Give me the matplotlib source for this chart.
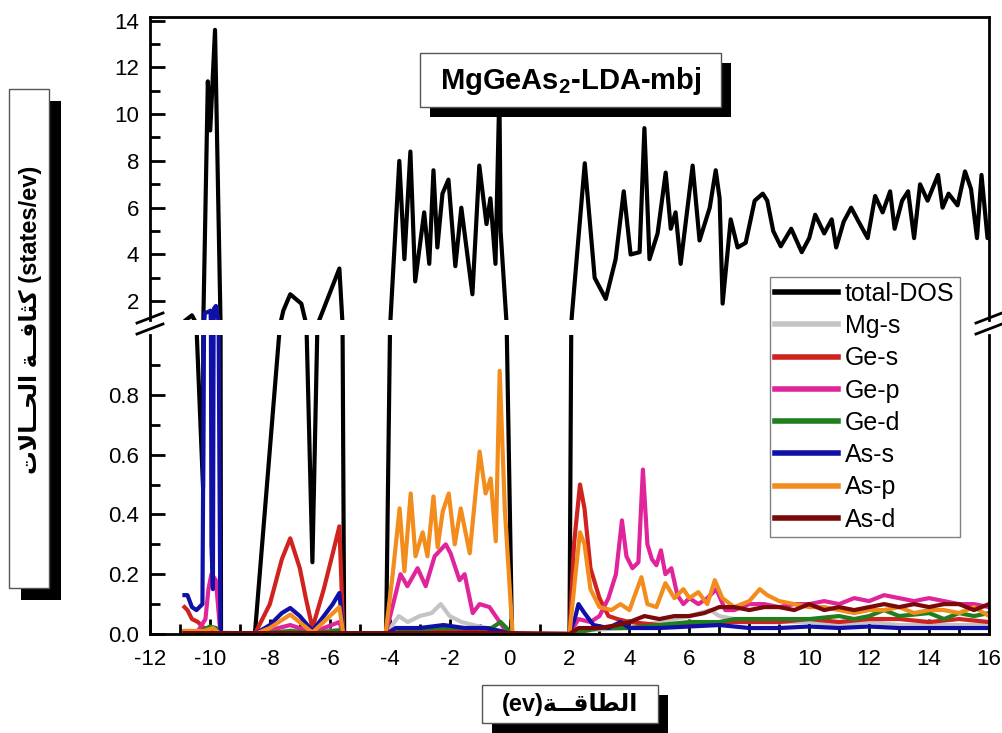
# -*- coding: utf-8 -*-
"""MgGeAs2 LDA-mbj density of states with a broken y axis."""
import matplotlib
matplotlib.use('Agg')
# pylint: disable=wrong-import-position
import matplotlib.pyplot as plt
from matplotlib.lines import Line2D
from matplotlib.patches import Rectangle

W, H = 1003, 733

# ---- data ----
tot_e = [-10.8, -10.6, -10.23, -10.07, -9.99, -9.83, -9.63,
         -8.5, -7.65, -7.55, -7.32, -6.95, -6.82, -6.58, -6.42, -6.35,
         -5.68, -5.58, -5.52,
         -4.12, -3.98, -3.68, -3.51, -3.31, -3.15, -2.85, -2.68, -2.54,
         -2.41, -2.24, -2.04, -1.81, -1.61, -1.24, -1.01, -0.77, -0.64,
         -0.47, -0.34, -0.3, -0.1, 0.08,
         2.0, 2.08, 2.51, 2.84, 3.21, 3.54, 3.81, 4.04, 4.34, 4.5, 4.67,
         4.94, 5.21, 5.38, 5.54, 5.71, 6.11, 6.34, 6.68, 6.88, 7.01, 7.11,
         7.38, 7.61, 7.88, 8.18, 8.45, 8.6, 8.8, 9.05, 9.4, 9.75, 10.0,
         10.2, 10.5, 10.75, 10.9, 11.15, 11.4, 11.65, 11.95, 12.2, 12.45,
         12.7, 12.85, 13.1, 13.3, 13.5, 13.7, 13.95, 14.3, 14.45, 14.65,
         14.95, 15.2, 15.4, 15.6, 15.75, 15.95, 16.1]
tot_v = [1.2, 1.4, 0.49, 11.4, 9.3, 13.6, 0.0,
         0.0, 1.05, 1.6, 2.3, 1.9, 1.2, 0.24, 1.0, 1.2,
         3.4, 1.15, 0.0,
         0.0, 1.1, 8.0, 3.8, 8.4, 2.85, 5.8, 3.6, 7.6,
         4.3, 6.6, 7.2, 3.5, 6.0, 2.3, 7.8, 5.3, 6.4,
         3.6, 11.0, 5.0, 1.05, 0.0,
         0.0, 1.4, 7.9, 3.0, 2.1, 3.8, 6.7, 4.0, 4.1, 9.4, 3.8,
         4.9, 7.5, 5.1, 5.8, 3.6, 7.8, 4.6, 6.0, 7.6, 6.4, 1.9,
         5.5, 4.3, 4.5, 6.3, 6.6, 6.3, 5.0, 4.35, 5.1, 4.1, 4.7,
         5.7, 4.9, 5.5, 4.3, 5.4, 6.0, 5.4, 4.7, 6.5, 5.8,
         6.7, 5.1, 6.3, 6.7, 4.7, 7.0, 6.3, 7.4, 6.0, 6.6,
         6.1, 7.55, 6.8, 4.7, 7.4, 4.7, 5.5]

mg_s_e = [-10.85, -9.6, -8.5, -7.3, -6.6, -5.7, -5.5,
          -4.12, -3.7, -3.4, -3.0, -2.6, -2.3, -2.0, -1.6, -1.2, -0.8, -0.3,
          0.08, 2.0, 2.5, 3.0, 4.0, 5.0, 5.5, 6.0, 6.7, 7.0, 7.5, 8.0, 8.5,
          9.0, 10.0, 11.0, 12.0, 13.0, 14.0, 15.0, 16.0]
mg_s_v = [0.005, 0.005, 0.0, 0.012, 0.003, 0.015, 0.0,
          0.0, 0.06, 0.04, 0.06, 0.07, 0.1, 0.06, 0.04, 0.03, 0.02, 0.01,
          0.0, 0.0, 0.01, 0.015, 0.02, 0.04, 0.05, 0.06, 0.08, 0.06, 0.05,
          0.05, 0.04, 0.04, 0.04, 0.03, 0.04, 0.03, 0.03, 0.03, 0.03]

ge_s_e = [-10.85, -10.75, -10.6, -10.4, -10.2, -9.9, -9.65,
          -8.5, -8.0, -7.6, -7.32, -7.0, -6.8, -6.58, -6.2, -5.9, -5.68,
          -5.55, -4.12, -3.0, -2.0, -1.0, 0.08,
          2.0, 2.15, 2.35, 2.5, 2.7, 3.0, 3.3, 3.6, 4.0, 5.0, 6.0, 7.0,
          8.0, 9.0, 10.0, 11.0, 12.0, 13.0, 14.0, 15.0, 16.0]
ge_s_v = [0.09, 0.08, 0.05, 0.04, 0.02, 0.01, 0.0,
          0.0, 0.1, 0.25, 0.32, 0.22, 0.12, 0.02, 0.15, 0.27, 0.36,
          0.0, 0.0, 0.01, 0.01, 0.01, 0.0,
          0.0, 0.3, 0.5, 0.42, 0.22, 0.12, 0.06, 0.05, 0.04, 0.03, 0.03,
          0.04, 0.04, 0.04, 0.05, 0.04, 0.05, 0.05, 0.04, 0.05, 0.04]

ge_p_e = [-10.85, -10.4, -10.15, -10.05, -9.95, -9.8, -9.65,
          -8.5, -7.32, -6.58, -5.68, -5.55,
          -4.14, -3.91, -3.64, -3.41, -3.07, -2.80, -2.50, -2.13, -1.97,
          -1.67, -1.50, -1.23, -1.0, -0.67, -0.33, -0.06,
          2.0, 2.3, 2.7, 3.0, 3.3, 3.55, 3.75, 3.9, 4.1, 4.3, 4.45, 4.6,
          4.75, 4.9, 5.05, 5.2, 5.4, 5.6, 5.8, 6.0, 6.3, 6.6, 6.9, 7.2,
          7.5, 8.0, 8.5, 9.0, 9.5, 10.0, 10.5, 11.0, 11.5, 12.0, 12.5,
          13.0, 13.5, 14.0, 14.5, 15.0, 15.5, 16.0]
ge_p_v = [0.01, 0.01, 0.05, 0.15, 0.2, 0.18, 0.0,
          0.0, 0.03, 0.005, 0.04, 0.0,
          0.0, 0.09, 0.2, 0.16, 0.22, 0.16, 0.26, 0.3, 0.27,
          0.18, 0.2, 0.07, 0.1, 0.09, 0.04, 0.0,
          0.0, 0.05, 0.04, 0.06, 0.12, 0.2, 0.38, 0.26, 0.22, 0.24, 0.55,
          0.3, 0.25, 0.23, 0.28, 0.2, 0.22, 0.13, 0.1, 0.12, 0.1, 0.12,
          0.15, 0.08, 0.08, 0.1, 0.1, 0.09, 0.1, 0.1, 0.11, 0.1, 0.12,
          0.11, 0.13, 0.12, 0.11, 0.12, 0.11, 0.1, 0.1, 0.09]

ge_d_e = [-10.85, -10.3, -10.0, -9.8, -9.65, -8.5, -7.3, -6.6, -5.7,
          -5.55, -4.12, -3.5, -2.5, -1.5, -0.6, -0.3, -0.1, 0.05,
          2.0, 2.5, 3.0, 4.0, 5.0, 6.0, 7.0, 7.5, 8.0, 9.0, 10.0, 11.0,
          11.5, 12.0, 12.5, 13.0, 14.0, 14.5, 15.0, 15.5, 16.0]
ge_d_v = [0.005, 0.01, 0.025, 0.02, 0.0, 0.0, 0.01, 0.003, 0.012,
          0.0, 0.0, 0.01, 0.02, 0.02, 0.02, 0.04, 0.02, 0.0,
          0.0, 0.01, 0.02, 0.02, 0.03, 0.04, 0.04, 0.05, 0.05, 0.05, 0.05,
          0.06, 0.05, 0.06, 0.08, 0.06, 0.07, 0.05, 0.07, 0.06, 0.07]

as_s_e = [-10.85, -10.75, -10.6, -10.45, -10.25, -10.17, -10.05, -9.98,
          -9.95, -9.9, -9.86, -9.8, -9.72, -9.65,
          -8.5, -8.0, -7.6, -7.32, -7.0, -6.58, -6.2, -5.9, -5.68, -5.55,
          -4.12, -3.8, -3.0, -2.2, -1.5, -0.8, -0.3, 0.05,
          2.0, 2.2, 2.3, 2.5, 2.8, 3.3, 3.7, 4.0, 5.0, 6.0, 7.0, 8.0, 9.0,
          10.0, 11.0, 12.0, 13.0, 14.0, 15.0, 16.0]
as_s_v = [0.13, 0.13, 0.09, 0.08, 0.1, 1.5, 1.55, 1.6,
          0.3, 0.15, 1.7, 1.8, 1.2, 0.0,
          0.0, 0.03, 0.07, 0.087, 0.06, 0.01, 0.06, 0.1, 0.137, 0.0,
          0.0, 0.02, 0.02, 0.03, 0.02, 0.02, 0.01, 0.0,
          0.0, 0.06, 0.1, 0.07, 0.03, 0.02, 0.04, 0.02, 0.02, 0.025, 0.03,
          0.02, 0.02, 0.025, 0.02, 0.025, 0.02, 0.02, 0.02, 0.02]

as_p_e = [-10.85, -10.2, -9.9, -9.65,
          -8.5, -8.0, -7.32, -6.58, -5.68, -5.55,
          -4.14, -3.9, -3.67, -3.51, -3.30, -3.14, -2.90, -2.74, -2.54,
          -2.40, -2.23, -2.03, -1.83, -1.63, -1.33, -1.0, -0.80, -0.63,
          -0.46, -0.33, -0.16, 0.1,
          2.0, 2.2, 2.35, 2.5, 2.7, 3.0, 3.4, 3.7, 4.0, 4.4, 4.6, 4.9, 5.2,
          5.5, 5.8, 6.0, 6.3, 6.6, 6.85, 7.1, 7.5, 8.0, 8.35, 8.6, 9.0,
          9.5, 10.0, 10.5, 11.0, 11.5, 12.0, 12.5, 13.0, 13.5, 14.0, 14.5,
          15.0, 15.5, 16.0]
as_p_v = [0.01, 0.01, 0.02, 0.0,
          0.0, 0.02, 0.065, 0.005, 0.09, 0.0,
          0.0, 0.2, 0.42, 0.21, 0.47, 0.26, 0.34, 0.26, 0.46,
          0.29, 0.41, 0.47, 0.30, 0.42, 0.27, 0.61, 0.47, 0.52,
          0.31, 0.88, 0.42, 0.0,
          0.0, 0.2, 0.34, 0.3, 0.15, 0.09, 0.08, 0.1, 0.08, 0.19, 0.1, 0.09,
          0.17, 0.12, 0.15, 0.12, 0.14, 0.1, 0.18, 0.12, 0.09, 0.11, 0.15,
          0.13, 0.11, 0.1, 0.09, 0.09, 0.08, 0.07, 0.08, 0.08, 0.09, 0.07,
          0.08, 0.08, 0.07, 0.09, 0.06]

as_d_e = [-10.85, -5.5, -4.12, 0.1,
          2.0, 2.3, 3.0, 3.6, 4.0, 4.5, 5.0, 5.5, 6.0, 6.5, 7.0, 7.5, 8.0,
          8.5, 9.0, 9.5, 10.0, 10.5, 11.0, 11.5, 12.0, 12.5, 13.0, 13.5,
          14.0, 14.5, 15.0, 15.5, 16.0]
as_d_v = [0.003, 0.003, 0.003, 0.003,
          0.0, 0.02, 0.02, 0.03, 0.04, 0.06, 0.05, 0.06, 0.06, 0.07, 0.09,
          0.09, 0.08, 0.09, 0.09, 0.08, 0.1, 0.08, 0.09, 0.08, 0.09, 0.1,
          0.09, 0.1, 0.09, 0.1, 0.1, 0.08, 0.1]

labels = ['total-DOS', 'Mg-s', 'Ge-s', 'Ge-p', 'Ge-d', 'As-s', 'As-p', 'As-d']
colors = ['#000000', '#c4c4c4', '#d0221e', '#e0259a', '#1f7f1f',
          '#1010a8', '#f28c1c', '#7a0a0a']
series_e = [tot_e, mg_s_e, ge_s_e, ge_p_e, ge_d_e, as_s_e, as_p_e, as_d_e]
series_v = [tot_v, mg_s_v, ge_s_v, ge_p_v, ge_d_v, as_s_v, as_p_v, as_d_v]

x_ticks = list(range(-12, 17, 2))
top_ticks = [2, 4, 6, 8, 10, 12, 14]
bot_ticks = [0.0, 0.2, 0.4, 0.6, 0.8]
bot_tick_labels = ['0.0', '0.2', '0.4', '0.6', '0.8']

# Arabic text written in visual order with presentation forms
AR_DENSITY = '\uFE95\uFEFB\uFE8E\u0640\u0640\uFEA4\uFEDF\uFE8D' + ' ' + \
    '\uFE94\u0640\u0640\uFED3\uFE8E\uFE9C\uFEDB'
AR_ENERGY = '\uFE94\u0640\u0640\uFED7\uFE8E\uFEC4\uFEDF\uFE8D'


def fx(p):
    """pixel x -> figure fraction."""
    return p / W


def fy(p):
    """pixel y (from top) -> figure fraction."""
    return 1 - p / H


def shadow_box(fig, x0, y0, x1, y1, off):
    """white box with a black drop shadow, in pixel coords."""
    fig.add_artist(Rectangle((fx(x0 + off), fy(y1 + off)),
                             fx(x1 - x0), fy(y0) - fy(y1),
                             transform=fig.transFigure, facecolor='black',
                             edgecolor='none', zorder=10))
    fig.add_artist(Rectangle((fx(x0), fy(y1)), fx(x1 - x0), fy(y0) - fy(y1),
                             transform=fig.transFigure, facecolor='white',
                             edgecolor='#555555', linewidth=1.0, zorder=11))


def main():
    """main."""
    plt.rcParams['font.family'] = ['Liberation Sans', 'DejaVu Sans']
    plt.rcParams['axes.unicode_minus'] = False
    plt.rcParams['mathtext.fontset'] = 'custom'
    plt.rcParams['mathtext.rm'] = 'Liberation Sans'
    plt.rcParams['mathtext.bf'] = 'Liberation Sans:bold'

    fig = plt.figure(figsize=(W / 100, H / 100), dpi=100)
    left, right = 150, 989
    ax_top = fig.add_axes([fx(left), fy(320), fx(right - left),
                           fy(17) - fy(320)])
    ax_bot = fig.add_axes([fx(left), fy(634), fx(right - left),
                           fy(335) - fy(634)])

    for e_seq, v_seq, col in zip(series_e, series_v, colors):
        for ax in (ax_top, ax_bot):
            ax.plot(e_seq, v_seq, color=col, linewidth=3.0,
                    solid_joinstyle='round')

    for ax in (ax_top, ax_bot):
        ax.set_xlim(-12, 16)
        for side in ('left', 'right', 'top', 'bottom'):
            ax.spines[side].set_linewidth(2.0)
        ax.tick_params(axis='both', which='both', direction='in',
                       right=False, top=False, width=2.0, labelsize=16)
        ax.tick_params(which='major', length=11)
        ax.tick_params(which='minor', length=7)
        ax.tick_params(axis='y', pad=8)

    ax_top.set_ylim(1.2, 14.15)
    ax_top.spines['bottom'].set_visible(False)
    ax_top.set_yticks(top_ticks)
    ax_top.set_yticks([3, 5, 7, 9, 11, 13], minor=True)
    ax_top.set_xticks([])
    ax_top.tick_params(axis='x', which='both', bottom=False,
                       labelbottom=False)

    ax_bot.set_ylim(0, 1.0)
    ax_bot.spines['top'].set_visible(False)
    ax_bot.set_yticks(bot_ticks)
    ax_bot.set_yticklabels(bot_tick_labels)
    ax_bot.set_yticks([0.1, 0.3, 0.5, 0.7, 0.9], minor=True)
    ax_bot.set_xticks(x_ticks)
    ax_bot.set_xticks(list(range(-11, 16, 2)), minor=True)
    ax_bot.tick_params(axis='x', pad=11)

    # axis break marks
    for xc in (left, right):
        for yc in (318, 329):
            fig.add_artist(Line2D([fx(xc - 13), fx(xc + 13)],
                                  [fy(yc + 5), fy(yc - 5)],
                                  transform=fig.transFigure, color='black',
                                  linewidth=2.0, zorder=12))

    # legend spanning the break
    handles = [Line2D([], [], color=c, linewidth=4.0) for c in colors]
    leg = fig.legend(handles, labels, loc='upper left',
                     bbox_to_anchor=(fx(770), fy(277)), fontsize=18,
                     frameon=True, fancybox=False, framealpha=1,
                     edgecolor='#808080', handlelength=2.5,
                     handletextpad=0.3, labelspacing=0.33, borderpad=0.2,
                     borderaxespad=0)
    leg.get_frame().set_linewidth(1.0)
    leg.set_zorder(12)

    # title box
    shadow_box(fig, 420, 53, 721, 107, 10)
    fig.text(fx(571), fy(81), 'MgGeAs$_{\\mathbf{2}}$-LDA-mbj',
             fontsize=21, fontweight='bold', ha='center', va='center',
             zorder=13)

    # y label box
    shadow_box(fig, 9, 89, 49, 588, 12)
    fig.text(fx(30), fy(320), AR_DENSITY + ' (states/ev)', rotation=90,
             fontsize=17, fontweight='bold', ha='center', va='center',
             zorder=13)

    # x label box
    shadow_box(fig, 482, 685, 658, 723, 10)
    fig.text(fx(570), fy(704), '(ev)' + AR_ENERGY, fontsize=17,
             fontweight='bold', ha='center', va='center', zorder=13)

    fig.savefig('out.png', dpi=100)


if __name__ == '__main__':
    main()

# EOF
